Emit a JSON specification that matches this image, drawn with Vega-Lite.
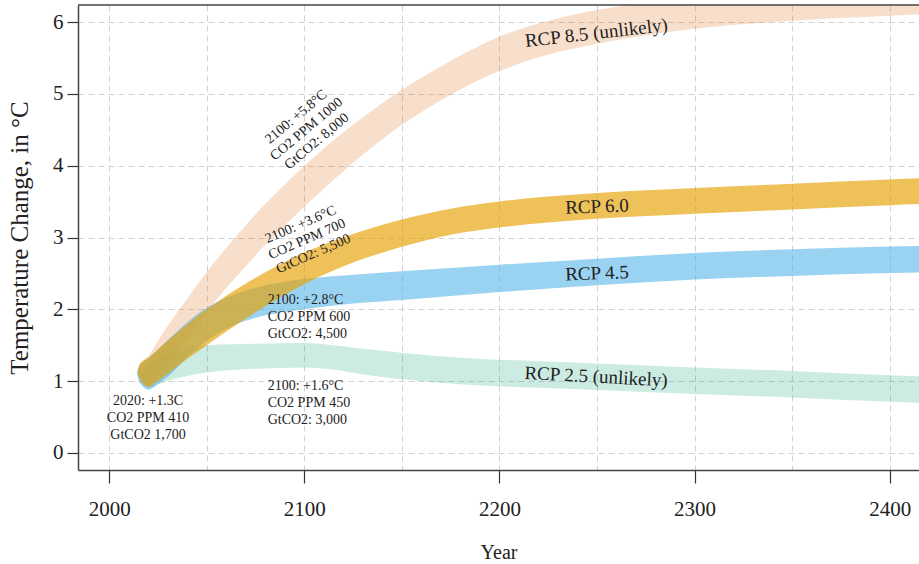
{
  "$schema": "https://vega.github.io/schema/vega-lite/v6.json",
  "width": 841,
  "height": 465,
  "autosize": "none",
  "padding": {"left": 78, "top": 5, "right": 0, "bottom": 94},
  "background": "white",
  "config": {
    "font": "Liberation Serif",
    "view": {"stroke": null},
    "axis": {"grid": true, "gridDash": [6, 4], "gridColor": "#d2d2d2", "gridWidth": 1, "tickColor": "#333", "tickWidth": 1.2, "domainColor": "#444", "domainWidth": 1.5, "labelFontSize": 21, "labelColor": "#222", "titleFontWeight": "normal", "titleColor": "#222", "labelFont": "Liberation Serif", "titleFont": "Liberation Serif"}
  },
  "datasets": {
    "bands": [
      {"series": "RCP 2.5", "year": 2016, "lo": 1.03, "hi": 1.07},
      {"series": "RCP 2.5", "year": 2018, "lo": 0.96, "hi": 1.14},
      {"series": "RCP 2.5", "year": 2020, "lo": 0.91, "hi": 1.21},
      {"series": "RCP 2.5", "year": 2025, "lo": 0.95, "hi": 1.31},
      {"series": "RCP 2.5", "year": 2030, "lo": 1.0, "hi": 1.4},
      {"series": "RCP 2.5", "year": 2040, "lo": 1.07, "hi": 1.47},
      {"series": "RCP 2.5", "year": 2050, "lo": 1.12, "hi": 1.5},
      {"series": "RCP 2.5", "year": 2075, "lo": 1.17, "hi": 1.52},
      {"series": "RCP 2.5", "year": 2100, "lo": 1.19, "hi": 1.53},
      {"series": "RCP 2.5", "year": 2115, "lo": 1.16, "hi": 1.5},
      {"series": "RCP 2.5", "year": 2130, "lo": 1.09, "hi": 1.45},
      {"series": "RCP 2.5", "year": 2150, "lo": 1.025, "hi": 1.395},
      {"series": "RCP 2.5", "year": 2180, "lo": 0.955, "hi": 1.325},
      {"series": "RCP 2.5", "year": 2220, "lo": 0.905, "hi": 1.275},
      {"series": "RCP 2.5", "year": 2250, "lo": 0.875, "hi": 1.245},
      {"series": "RCP 2.5", "year": 2300, "lo": 0.82, "hi": 1.19},
      {"series": "RCP 2.5", "year": 2350, "lo": 0.77, "hi": 1.14},
      {"series": "RCP 2.5", "year": 2400, "lo": 0.71, "hi": 1.08},
      {"series": "RCP 2.5", "year": 2420, "lo": 0.69, "hi": 1.06},

      {"series": "RCP 8.5", "year": 2014.6, "lo": 1.14, "hi": 1.16},
      {"series": "RCP 8.5", "year": 2015.5, "lo": 1.06, "hi": 1.24},
      {"series": "RCP 8.5", "year": 2017, "lo": 0.98, "hi": 1.29},
      {"series": "RCP 8.5", "year": 2020, "lo": 0.95, "hi": 1.35},
      {"series": "RCP 8.5", "year": 2025, "lo": 1.06, "hi": 1.56},
      {"series": "RCP 8.5", "year": 2030, "lo": 1.23, "hi": 1.77},
      {"series": "RCP 8.5", "year": 2040, "lo": 1.59, "hi": 2.15},
      {"series": "RCP 8.5", "year": 2050, "lo": 1.96, "hi": 2.52},
      {"series": "RCP 8.5", "year": 2060, "lo": 2.295, "hi": 2.855},
      {"series": "RCP 8.5", "year": 2070, "lo": 2.6, "hi": 3.17},
      {"series": "RCP 8.5", "year": 2080, "lo": 2.9, "hi": 3.47},
      {"series": "RCP 8.5", "year": 2090, "lo": 3.17, "hi": 3.74},
      {"series": "RCP 8.5", "year": 2100, "lo": 3.43, "hi": 4.0},
      {"series": "RCP 8.5", "year": 2110, "lo": 3.68, "hi": 4.24},
      {"series": "RCP 8.5", "year": 2125, "lo": 4.04, "hi": 4.57},
      {"series": "RCP 8.5", "year": 2150, "lo": 4.57, "hi": 5.06},
      {"series": "RCP 8.5", "year": 2175, "lo": 4.99, "hi": 5.46},
      {"series": "RCP 8.5", "year": 2200, "lo": 5.32, "hi": 5.8},
      {"series": "RCP 8.5", "year": 2225, "lo": 5.55, "hi": 6.02},
      {"series": "RCP 8.5", "year": 2250, "lo": 5.7, "hi": 6.17},
      {"series": "RCP 8.5", "year": 2275, "lo": 5.82, "hi": 6.27},
      {"series": "RCP 8.5", "year": 2300, "lo": 5.91, "hi": 6.35},
      {"series": "RCP 8.5", "year": 2350, "lo": 6.02, "hi": 6.46},
      {"series": "RCP 8.5", "year": 2400, "lo": 6.09, "hi": 6.53},
      {"series": "RCP 8.5", "year": 2420, "lo": 6.12, "hi": 6.56},

      {"series": "RCP 4.5", "year": 2014.2, "lo": 1.09, "hi": 1.11},
      {"series": "RCP 4.5", "year": 2015.2, "lo": 1.0, "hi": 1.2},
      {"series": "RCP 4.5", "year": 2017, "lo": 0.93, "hi": 1.25},
      {"series": "RCP 4.5", "year": 2020, "lo": 0.88, "hi": 1.32},
      {"series": "RCP 4.5", "year": 2025, "lo": 0.96, "hi": 1.44},
      {"series": "RCP 4.5", "year": 2030, "lo": 1.06, "hi": 1.57},
      {"series": "RCP 4.5", "year": 2040, "lo": 1.33, "hi": 1.82},
      {"series": "RCP 4.5", "year": 2050, "lo": 1.56, "hi": 2.02},
      {"series": "RCP 4.5", "year": 2060, "lo": 1.73, "hi": 2.16},
      {"series": "RCP 4.5", "year": 2075, "lo": 1.88, "hi": 2.3},
      {"series": "RCP 4.5", "year": 2100, "lo": 2.0, "hi": 2.42},
      {"series": "RCP 4.5", "year": 2125, "lo": 2.08, "hi": 2.48},
      {"series": "RCP 4.5", "year": 2150, "lo": 2.13, "hi": 2.53},
      {"series": "RCP 4.5", "year": 2200, "lo": 2.24, "hi": 2.62},
      {"series": "RCP 4.5", "year": 2250, "lo": 2.335, "hi": 2.705},
      {"series": "RCP 4.5", "year": 2300, "lo": 2.415, "hi": 2.785},
      {"series": "RCP 4.5", "year": 2350, "lo": 2.465, "hi": 2.835},
      {"series": "RCP 4.5", "year": 2400, "lo": 2.505, "hi": 2.875},
      {"series": "RCP 4.5", "year": 2420, "lo": 2.515, "hi": 2.885},

      {"series": "RCP 6.0", "year": 2014.6, "lo": 1.12, "hi": 1.14},
      {"series": "RCP 6.0", "year": 2015.5, "lo": 1.04, "hi": 1.22},
      {"series": "RCP 6.0", "year": 2017, "lo": 0.97, "hi": 1.27},
      {"series": "RCP 6.0", "year": 2020, "lo": 0.92, "hi": 1.32},
      {"series": "RCP 6.0", "year": 2025, "lo": 1.0, "hi": 1.44},
      {"series": "RCP 6.0", "year": 2030, "lo": 1.1, "hi": 1.56},
      {"series": "RCP 6.0", "year": 2040, "lo": 1.31, "hi": 1.79},
      {"series": "RCP 6.0", "year": 2050, "lo": 1.5, "hi": 2.0},
      {"series": "RCP 6.0", "year": 2060, "lo": 1.69, "hi": 2.19},
      {"series": "RCP 6.0", "year": 2075, "lo": 1.96, "hi": 2.44},
      {"series": "RCP 6.0", "year": 2100, "lo": 2.35, "hi": 2.79},
      {"series": "RCP 6.0", "year": 2125, "lo": 2.65, "hi": 3.05},
      {"series": "RCP 6.0", "year": 2150, "lo": 2.87, "hi": 3.25},
      {"series": "RCP 6.0", "year": 2175, "lo": 3.04, "hi": 3.4},
      {"series": "RCP 6.0", "year": 2200, "lo": 3.14, "hi": 3.5},
      {"series": "RCP 6.0", "year": 2225, "lo": 3.21, "hi": 3.57},
      {"series": "RCP 6.0", "year": 2250, "lo": 3.26, "hi": 3.62},
      {"series": "RCP 6.0", "year": 2300, "lo": 3.33, "hi": 3.69},
      {"series": "RCP 6.0", "year": 2350, "lo": 3.39, "hi": 3.75},
      {"series": "RCP 6.0", "year": 2400, "lo": 3.45, "hi": 3.81},
      {"series": "RCP 6.0", "year": 2420, "lo": 3.47, "hi": 3.83}
    ],
    "notesCenter": [
      {"year": 2019.9, "lo": 0.725, "label": "2020: +1.3C\nCO2 PPM 410\nGtCO2 1,700"}
    ],
    "notesLeft": [
      {"year": 2081.2, "lo": 2.13, "label": "2100: +2.8°C\nCO2 PPM 600\nGtCO2: 4,500"},
      {"year": 2081.2, "lo": 0.93, "label": "2100: +1.6°C\nCO2 PPM 450\nGtCO2: 3,000"}
    ],
    "note85": [
      {"year": 2095.8, "lo": 4.68, "label": "2100: +5.8°C\nCO2 PPM 1000\nGtCO2: 8,000"}
    ],
    "note60": [
      {"year": 2098.1, "lo": 3.18, "label": "2100: +3.6°C\nCO2 PPM 700\nGtCO2: 5,500"}
    ],
    "rcp85": [{"year": 2249.6, "lo": 5.85, "label": "RCP 8.5 (unlikely)"}],
    "rcpmid": [
      {"year": 2250, "lo": 3.43, "label": "RCP 6.0"},
      {"year": 2250, "lo": 2.5, "label": "RCP 4.5"}
    ],
    "rcp25": [{"year": 2249.5, "lo": 1.06, "label": "RCP 2.5 (unlikely)"}],
    "frame": [{"edge": "top", "lo": 6.24}]
  },
  "layer": [
    {
      "data": {"name": "bands"},
      "transform": [{"filter": "datum.series === 'RCP 2.5'"}],
      "mark": {"type": "area", "color": "#009E73", "opacity": 0.2, "interpolate": "monotone", "clip": true},
      "encoding": {
        "x": {
          "field": "year", "type": "quantitative",
          "scale": {"domain": [1984, 2415], "nice": false, "zero": false},
          "axis": {
            "title": "Year",
            "values": [2000, 2050, 2100, 2150, 2200, 2250, 2300, 2350, 2400],
            "format": "d",
            "labelExpr": "datum.value % 100 === 0 ? datum.label : ''",
            "tickOpacity": {"condition": {"test": "datum.value % 100 !== 0", "value": 0}, "value": 1},
            "tickSize": 13,
            "labelPadding": 15, "labelFlush": false,
            "titleFontSize": 20,
            "titlePadding": 23
          }
        },
        "y": {
          "field": "lo", "type": "quantitative",
          "scale": {"domain": [-0.24, 6.24], "nice": false, "zero": false},
          "axis": {
            "title": "Temperature Change, in °C",
            "values": [0, 1, 2, 3, 4, 5, 6],
            "format": "d",
            "tickSize": 11,
            "labelPadding": 4,
            "titleFontSize": 25,
            "titlePadding": 20
          }
        },
        "y2": {"field": "hi"}
      }
    },
    {
      "data": {"name": "bands"},
      "transform": [{"filter": "datum.series === 'RCP 8.5'"}],
      "mark": {"type": "area", "color": "#D55E00", "opacity": 0.2, "interpolate": "monotone", "clip": true},
      "encoding": {
        "x": {"field": "year", "type": "quantitative"},
        "y": {"field": "lo", "type": "quantitative"},
        "y2": {"field": "hi"}
      }
    },
    {
      "data": {"name": "bands"},
      "transform": [{"filter": "datum.series === 'RCP 4.5'"}],
      "mark": {"type": "area", "color": "#56B4E9", "opacity": 0.6, "interpolate": "monotone", "clip": true},
      "encoding": {
        "x": {"field": "year", "type": "quantitative"},
        "y": {"field": "lo", "type": "quantitative"},
        "y2": {"field": "hi"}
      }
    },
    {
      "data": {"name": "bands"},
      "transform": [{"filter": "datum.series === 'RCP 6.0'"}],
      "mark": {"type": "area", "color": "#E69F00", "opacity": 0.65, "interpolate": "monotone", "clip": true},
      "encoding": {
        "x": {"field": "year", "type": "quantitative"},
        "y": {"field": "lo", "type": "quantitative"},
        "y2": {"field": "hi"}
      }
    },
    {
      "data": {"name": "frame"},
      "mark": {"type": "rule", "color": "#444", "strokeWidth": 1.5},
      "encoding": {"y": {"field": "lo", "type": "quantitative"}}
    },
    {
      "data": {"name": "notesCenter"},
      "mark": {"type": "text", "fontSize": 14, "color": "#222", "lineBreak": "\n", "lineHeight": 17, "baseline": "middle", "align": "center"},
      "encoding": {
        "x": {"field": "year", "type": "quantitative"},
        "y": {"field": "lo", "type": "quantitative"},
        "text": {"field": "label"}
      }
    },
    {
      "data": {"name": "notesLeft"},
      "mark": {"type": "text", "fontSize": 14, "color": "#222", "lineBreak": "\n", "lineHeight": 17, "baseline": "middle", "align": "left"},
      "encoding": {
        "x": {"field": "year", "type": "quantitative"},
        "y": {"field": "lo", "type": "quantitative"},
        "text": {"field": "label"}
      }
    },
    {
      "data": {"name": "note85"},
      "mark": {"type": "text", "fontSize": 14, "color": "#222", "lineBreak": "\n", "lineHeight": 16, "baseline": "middle", "align": "center", "angle": -40},
      "encoding": {
        "x": {"field": "year", "type": "quantitative"},
        "y": {"field": "lo", "type": "quantitative"},
        "text": {"field": "label"}
      }
    },
    {
      "data": {"name": "note60"},
      "mark": {"type": "text", "fontSize": 14, "color": "#222", "lineBreak": "\n", "lineHeight": 16, "baseline": "middle", "align": "center", "angle": -23.5},
      "encoding": {
        "x": {"field": "year", "type": "quantitative"},
        "y": {"field": "lo", "type": "quantitative"},
        "text": {"field": "label"}
      }
    },
    {
      "data": {"name": "rcp85"},
      "mark": {"type": "text", "fontSize": 19, "color": "#222", "baseline": "middle", "align": "center", "angle": -6.5},
      "encoding": {
        "x": {"field": "year", "type": "quantitative"},
        "y": {"field": "lo", "type": "quantitative"},
        "text": {"field": "label"}
      }
    },
    {
      "data": {"name": "rcpmid"},
      "mark": {"type": "text", "fontSize": 19, "color": "#222", "baseline": "middle", "align": "center", "angle": -2},
      "encoding": {
        "x": {"field": "year", "type": "quantitative"},
        "y": {"field": "lo", "type": "quantitative"},
        "text": {"field": "label"}
      }
    },
    {
      "data": {"name": "rcp25"},
      "mark": {"type": "text", "fontSize": 19, "color": "#222", "baseline": "middle", "align": "center", "angle": 3},
      "encoding": {
        "x": {"field": "year", "type": "quantitative"},
        "y": {"field": "lo", "type": "quantitative"},
        "text": {"field": "label"}
      }
    }
  ]
}
